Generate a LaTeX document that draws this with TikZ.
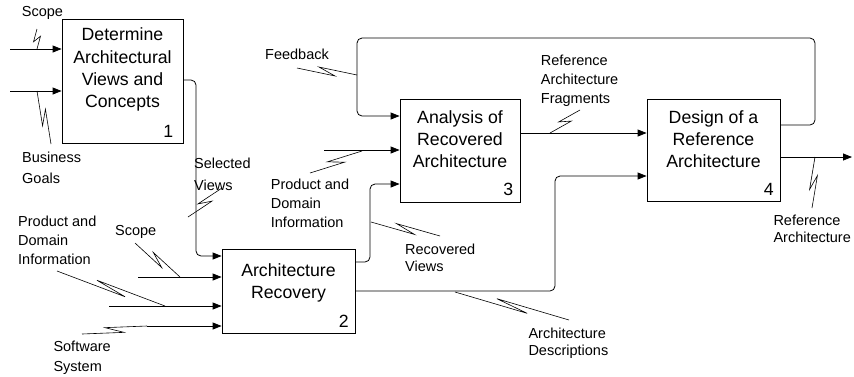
\documentclass[tikz,border=0pt]{standalone}
\usepackage{fontspec}
\setmainfont{Liberation Sans}
\usetikzlibrary{calc,arrows.meta}
\newcommand\mylines[2][l]{\begin{tabular}[t]{@{}#1@{}}#2\end{tabular}}
\newcommand\boxfont{\fontsize{17.7}{22.3}\selectfont}
\newcommand\lblfont[1][19]{\fontsize{14.5}{#1}\selectfont}
\newcommand\squig[2]{\draw[sq] (#1) -- ($(#1)!0.64!(#2)!3.5pt!-90:(#2)$) -- ($(#1)!0.36!(#2)!3.5pt!90:(#2)$) -- (#2);}
\begin{document}
\begin{tikzpicture}[x=1pt,y=-1pt,
  box/.style={draw=black,line width=0.8pt,inner sep=0pt},
  boxtxt/.style={anchor=base,inner sep=0pt,font=\boxfont},
  num/.style={anchor=base east,inner sep=0pt,font=\boxfont},
  lbl/.style={anchor=base west,inner sep=0pt,font=\lblfont[#1]},
  lbl/.default=19,
  arr/.style={draw=black,line width=0.8pt,-{Triangle[length=9pt,width=7pt]},rounded corners=5pt},
  sq/.style={draw=black,line width=0.6pt,line join=miter}]
\useasboundingbox (0,0) rectangle (854,376);

% boxes
\node[box,minimum width=121pt,minimum height=124pt] (b1) at (122.5,81) {};
\node[box,minimum width=133pt,minimum height=84pt] (b2) at (288.5,291) {};
\node[box,minimum width=120pt,minimum height=103pt] (b3) at (460,150.5) {};
\node[box,minimum width=133pt,minimum height=102pt] (b4) at (713.5,150) {};

% box texts
\node[boxtxt] (t1) at (122.5,40.7) {\mylines[c]{Determine\\Architectural\\Views and\\Concepts}};
\node[boxtxt] (t2) at (288.5,276) {\mylines[c]{Architecture\\Recovery}};
\node[boxtxt] (t3) at (460,123) {\mylines[c]{Analysis of\\Recovered\\Architecture}};
\node[boxtxt] (t4) at (713.5,123.3) {\mylines[c]{Design of a\\Reference\\Architecture}};
\node[num] (n1) at (173.5,137.3) {1};
\node[num] (n2) at (349,327.7) {2};
\node[num] (n3) at (513.5,195.7) {3};
\node[num] (n4) at (774,195) {4};

% labels
\node[lbl] (lscope1) at (21.7,16.7) {Scope};
\node[lbl=20.8] (lgoals) at (22,162.5) {\mylines{Business\\Goals}};
\node[lbl=22] (lsel) at (194,168) {\mylines{Selected\\Views}};
\node[lbl] (lpdi1) at (18,226) {\mylines{Product and\\Domain\\Information}};
\node[lbl] (lscope2) at (115,235) {Scope};
\node[lbl=19.5] (lsw) at (53.3,351.7) {\mylines{Software\\System}};
\node[lbl] (lfb) at (265,59.3) {Feedback};
\node[lbl] (lpdi2) at (270.7,189.3) {\mylines{Product and\\Domain\\Information}};
\node[lbl=17.7] (lrv) at (405,254) {\mylines{Recovered\\Views}};
\node[lbl=17.6] (lad) at (528.3,338.3) {\mylines{Architecture\\Descriptions}};
\node[lbl] (lraf) at (540.7,65) {\mylines{Reference\\Architecture\\Fragments}};
\node[lbl=17.7] (lra) at (773.3,225) {\mylines{Reference\\Architecture}};

% connector coordinates
\coordinate (s1) at (10,49);
\coordinate (s2) at (10,91);
\coordinate (k1) at (196,80);
\coordinate (k2) at (196,256);
\coordinate (s3) at (138,277);
\coordinate (s4) at (109,306);
\coordinate (s5) at (147,326);
\coordinate (k3) at (370,262);
\coordinate (k4) at (370,184);
\coordinate (k5) at (555,291);
\coordinate (k6) at (555,176);
\coordinate (k7) at (815,125);
\coordinate (k8) at (815,38);
\coordinate (k9) at (357,38);
\coordinate (k10) at (357,116);
\coordinate (s6) at (324,150);
\coordinate (k11) at (600,133);
\coordinate (e1) at (852,157);

% connectors
\draw[arr] (s1) -- (s1 -| b1.west);
\draw[arr] (s2) -- (s2 -| b1.west);
\draw[arr] (k1 -| b1.east) -- (k1) -- (k2) -- (k2 -| b2.west);
\draw[arr] (s3) -- (s3 -| b2.west);
\draw[arr] (s4) -- (s4 -| b2.west);
\draw[arr] (s5) -- (s5 -| b2.west);
\draw[arr] (k3 -| b2.east) -- (k3) -- (k4) -- (k4 -| b3.west);
\draw[arr] (k5 -| b2.east) -- (k5) -- (k6) -- (k6 -| b4.west);
\draw[arr] (k7 -| b4.east) -- (k7) -- (k8) -- (k9) -- (k10) -- (k10 -| b3.west);
\draw[arr] (s6) -- (s6 -| b3.west);
\draw[arr] (k11 -| b3.east) -- (k11 -| b4.west);
\draw[arr] (e1 -| b4.east) -- (e1);

% squiggles (label end, arrow end)
\coordinate (q1a) at (37,29);   \coordinate (q1b) at (37,49);
\coordinate (q2a) at (51,144);  \coordinate (q2b) at (37,91);
\coordinate (q3a) at (222,188); \coordinate (q3b) at (188,217);
\coordinate (q4a) at (135,243); \coordinate (q4b) at (180,277);
\coordinate (q5a) at (57,271);  \coordinate (q5b) at (165,306);
\coordinate (q6a) at (82,334);  \coordinate (q6b) at (147,326);
\coordinate (q7a) at (297,68);  \coordinate (q7b) at (357,75);
\coordinate (q8a) at (310,173); \coordinate (q8b) at (362,151);
\coordinate (q9a) at (440,236); \coordinate (q9b) at (371,222);
\coordinate (q10a) at (580,110); \coordinate (q10b) at (550,133);
\coordinate (q11a) at (569,320); \coordinate (q11b) at (455,292);
\coordinate (q12a) at (812,208); \coordinate (q12b) at (815,157);
\squig{q1a}{q1b}
\squig{q2a}{q2b}
\squig{q3a}{q3b}
\squig{q4a}{q4b}
\squig{q5a}{q5b}
\squig{q6a}{q6b}
\squig{q7a}{q7b}
\squig{q8a}{q8b}
\squig{q9a}{q9b}
\squig{q10a}{q10b}
\squig{q11a}{q11b}
\squig{q12a}{q12b}
\end{tikzpicture}
\end{document}
